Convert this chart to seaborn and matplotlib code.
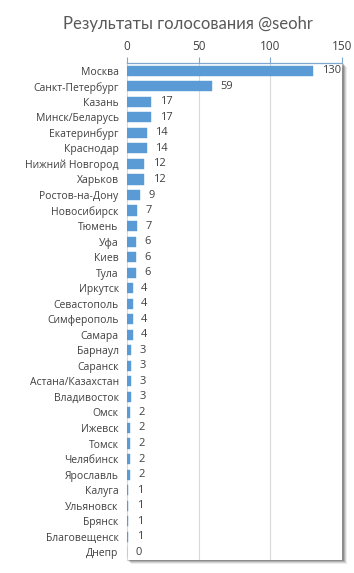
import matplotlib
matplotlib.use("Agg")
import matplotlib.pyplot as plt
import seaborn as sns
import pandas as pd
from matplotlib.patches import Rectangle

cities = ["Москва", "Санкт-Петербург", "Казань", "Минск/Беларусь", "Екатеринбург",
          "Краснодар", "Нижний Новгород", "Харьков", "Ростов-на-Дону", "Новосибирск",
          "Тюмень", "Уфа", "Киев", "Тула", "Иркутск", "Севастополь", "Симферополь",
          "Самара", "Барнаул", "Саранск", "Астана/Казахстан", "Владивосток", "Омск",
          "Ижевск", "Томск", "Челябинск", "Ярославль", "Калуга", "Ульяновск", "Брянск",
          "Благовещенск", "Днепр"]
votes = [130, 59, 17, 17, 14, 14, 12, 12, 9, 7, 7, 6, 6, 6, 4, 4, 4, 4, 3, 3, 3, 3,
         2, 2, 2, 2, 2, 1, 1, 1, 1, 0]
x_ticks = [0, 50, 100, 150]
title = "Результаты голосования @seohr"

df = pd.DataFrame({"city": cities, "votes": votes})

sns.set_theme(style="white")
plt.rcParams['font.family'] = ['Open Sans', 'DejaVu Sans']

W, H = 354, 573
fig = plt.figure(figsize=(W / 100, H / 100), dpi=100)
left, right, top, bottom = 127, 342, 63, 560
ax = fig.add_axes([left / W, 1 - bottom / H, (right - left) / W, (bottom - top) / H])

# drop shadow behind plot area
for i, a in enumerate([0.10, 0.16, 0.25, 0.35]):
    off = 4 - i
    fig.patches.append(Rectangle(((left + off) / W, 1 - (bottom + off) / H),
                                 (right - left + 1) / W, (bottom - top) / H,
                                 transform=fig.transFigure, facecolor=(0.3, 0.3, 0.3, a),
                                 edgecolor='none', zorder=0))
ax.set_zorder(2)
ax.set_facecolor('white')

sns.barplot(data=df, x="votes", y="city", orient="h", color="#5B9BD5",
            saturation=1, width=0.65, ax=ax, zorder=3, linewidth=0.3, edgecolor="#5B9BD5")

ax.set_xlim(0, 150)
ax.set_ylim(len(cities) - 0.5, -0.5)
ax.xaxis.tick_top()
ax.set_xticks(x_ticks)
ax.set_xticklabels([str(t) for t in x_ticks], fontsize=8.5, color='#404040')
ax.tick_params(axis='x', which='both', top=True, bottom=False, length=4, width=0.8,
               color='#7FA7CF', pad=3)
ax.tick_params(axis='y', length=0, labelsize=7.5, labelcolor='#404040', pad=6)
ax.set_xlabel("")
ax.set_ylabel("")
for v in x_ticks[1:]:
    ax.axvline(v, color='#D9D9D9', lw=0.8, zorder=1)

for s in ['right', 'bottom']:
    ax.spines[s].set_visible(False)
ax.spines['left'].set_color('#D9D9D9')
ax.spines['left'].set_linewidth(0.8)
ax.spines['left'].set_zorder(1)
ax.spines['top'].set_color('#7FA7CF')
ax.spines['top'].set_linewidth(0.9)

for i, v in enumerate(votes):
    ax.annotate(str(v), (v, i), xytext=(6, 0), textcoords='offset points',
                va='center', ha='left', fontsize=8, color='#404040', zorder=4)

fig.text(188 / W, 1 - 24 / H, title, ha='center', va='center', fontsize=12,
         color='#595959', family=['Lato', 'DejaVu Sans'])

fig.savefig("out.png", dpi=100, facecolor='white')
